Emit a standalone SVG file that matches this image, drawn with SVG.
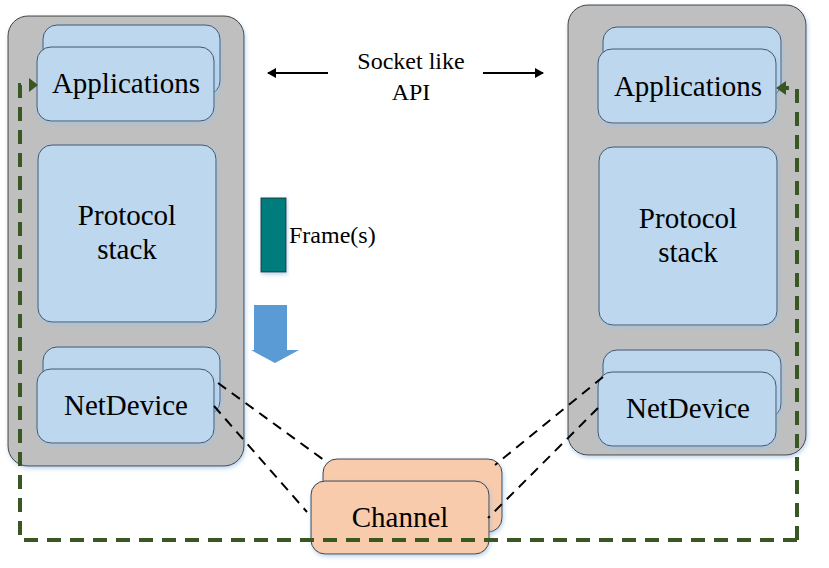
<svg xmlns="http://www.w3.org/2000/svg" width="829" height="568" viewBox="0 0 829 568">
<defs>
<filter id="sh" x="-10%" y="-10%" width="120%" height="120%">
<feDropShadow dx="1" dy="2" stdDeviation="2" flood-color="#9dc3e6" flood-opacity="0.7"/>
</filter>
<marker id="ah" markerWidth="10" markerHeight="10" refX="8" refY="5" orient="auto" markerUnits="userSpaceOnUse">
<path d="M0,0 L9,5 L0,10 Z" fill="#000"/>
</marker>
</defs>
<style>
.host{fill:#bfbfbf;stroke:#404040;stroke-width:1;filter:url(#sh)}
.card{fill:#bdd7ee;stroke:#44546a;stroke-width:1;filter:url(#sh)}
.ch{fill:#f8cbad;stroke:#404040;stroke-width:1;filter:url(#sh)}
text{font-family:'Liberation Serif','Times New Roman',serif;fill:#000;text-anchor:middle}
.big{font-size:29px}
.mid{font-size:24px}
.bd{fill:none;stroke:#000;stroke-width:2;stroke-dasharray:10,7}
.gd{fill:none;stroke:#385723;stroke-width:4;stroke-dasharray:14,9}
</style>
<g id="host-left">
<rect class="host" x="8" y="16" width="236" height="450" rx="20"/>
</g>
<g id="host-right">
<rect class="host" x="568" y="5" width="238" height="450" rx="20"/>
</g>
<g id="apps-left">
<rect class="card" x="43" y="25" width="177" height="70" rx="14"/>
<rect class="card" x="37" y="47" width="177" height="74" rx="14"/>
<text class="big" x="126" y="93">Applications</text>
</g>
<g id="proto-left">
<rect class="card" x="38" y="145" width="178" height="177" rx="14"/>
<text class="big" x="127" y="225">Protocol</text>
<text class="big" x="127" y="259">stack</text>
</g>
<g id="netdev-left">
<rect class="card" x="43" y="347" width="177" height="68" rx="14"/>
<rect class="card" x="37" y="369" width="177" height="74" rx="14"/>
<text class="big" x="126" y="415">NetDevice</text>
</g>
<g id="apps-right">
<rect class="card" x="603" y="27" width="178" height="70" rx="14"/>
<rect class="card" x="598" y="49" width="178" height="74" rx="14"/>
<text class="big" x="688" y="96">Applications</text>
</g>
<g id="proto-right">
<rect class="card" x="599" y="147" width="178" height="178" rx="14"/>
<text class="big" x="688" y="228">Protocol</text>
<text class="big" x="688" y="262">stack</text>
</g>
<g id="netdev-right">
<rect class="card" x="603" y="350" width="178" height="68" rx="14"/>
<rect class="card" x="598" y="372" width="178" height="74" rx="14"/>
<text class="big" x="688" y="418">NetDevice</text>
</g>
<g id="channel">
<rect class="ch" x="323" y="459" width="179" height="73" rx="14"/>
<rect class="ch" x="311" y="481" width="178" height="73" rx="14"/>
<text class="big" x="400" y="527">Channel</text>
</g>
<g id="frame">
<rect x="261" y="198" width="25" height="74" fill="#007b7b" stroke="#1f3b3b" stroke-width="1" filter="url(#sh)"/>
<text class="mid" x="289" y="243" style="text-anchor:start">Frame(s)</text>
</g>
<g id="down-arrow">
<path d="M254,305 L287,305 L287,350 L299,350 L275,363 L251,350 L254,350 Z" fill="#5b9bd5"/>
</g>
<g id="api-label">
<text class="mid" x="411" y="69">Socket like</text>
<text class="mid" x="411" y="100">API</text>
</g>
<g id="connectors">
<line x1="328" y1="73" x2="268" y2="73" stroke="#000" stroke-width="2" marker-end="url(#ah)"/>
<line x1="483" y1="73" x2="543" y2="73" stroke="#000" stroke-width="2" marker-end="url(#ah)"/>
<line class="bd" x1="218" y1="383" x2="328" y2="463"/>
<line class="bd" x1="214" y1="406" x2="307" y2="512"/>
<line class="bd" x1="603" y1="377" x2="495" y2="465"/>
<line class="bd" x1="598" y1="408" x2="488" y2="518"/>
<path class="gd" d="M797,540 L797,88 L780,88" />
<path d="M786,81 L776,88 L786,95 Z" fill="#385723"/>
<path class="gd" d="M797,540 L20,540 L20,85 L32,85"/>
<path d="M29,78 L38,85 L29,92 Z" fill="#385723"/>
</g>
</svg>
